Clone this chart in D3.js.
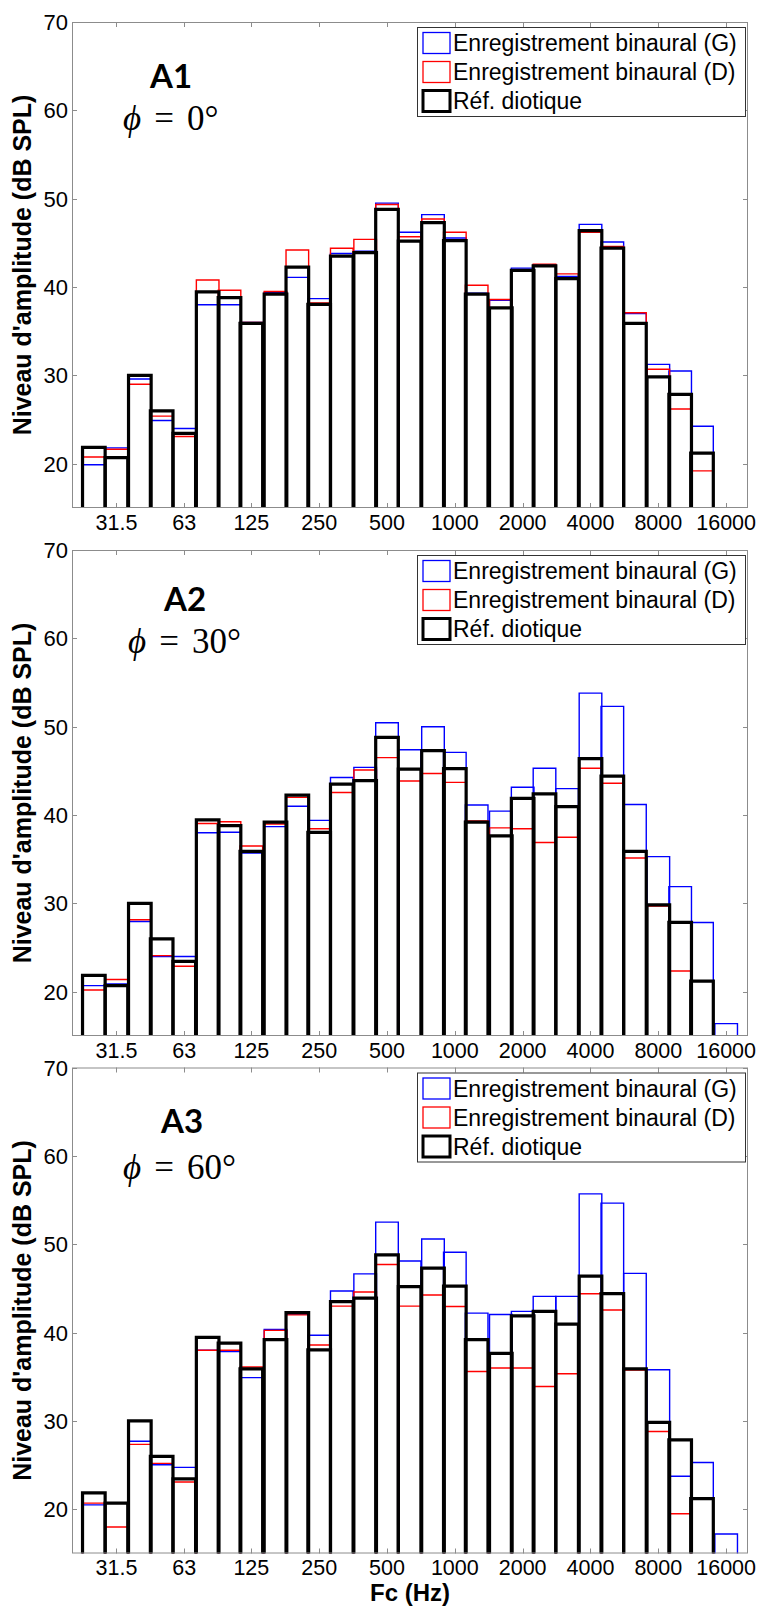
<!DOCTYPE html>
<html>
<head>
<meta charset="utf-8">
<script src="https://cdnjs.cloudflare.com/ajax/libs/d3/7.8.5/d3.min.js"></script>
<style>
  body{margin:0;background:#fff}
  svg{display:block}
  text{font-family:"Liberation Sans",Arial,sans-serif;fill:#000}
</style>
</head>
<body>
<div id="chart"></div>
<script>
  // shared config
  var width  = 760,
      height = 1606,
      left   = 72,
      right  = 748,
      plotH  = 486;

  // third-octave bands (Hz)
  var bands = [25, 31.5, 40, 50, 63, 80, 100, 125, 160, 200, 250, 315, 400, 500,
               630, 800, 1000, 1250, 1600, 2000, 2500, 3150, 4000, 5000, 6300,
               8000, 10000, 12500, 16000];

  var xTicks      = [31.5, 63, 125, 250, 500, 1000, 2000, 4000, 8000, 16000],
      xTickLabels = ['31.5', '63', '125', '250', '500', '1000', '2000', '4000', '8000', '16000'],
      yTicks      = [20, 30, 40, 50, 60, 70];

  var legendLabels = ['Enregistrement binaural (G)', 'Enregistrement binaural (D)', 'Réf. diotique'];

  // dB SPL per band, null = below the axis
  var refDiotique = [21.85, 20.7, 30.0, 26.0, 23.45, 39.45, 38.8, 35.9, 39.2, 42.25, 38.05, 43.5, 43.9, 48.8,
                     45.2, 47.3, 45.25, 39.2, 37.65, 41.9, 42.4, 40.95, 46.4, 44.4, 35.9, 29.85, 27.85, 21.2, null];

  var a1Left  = [19.9, 21.8, 29.6, 24.9, 24.0, 38.0, 38.0, 36.0, 39.4, 41.1, 38.7, 43.8, 44.05, 49.5,
                 46.2, 48.2, 45.55, 39.3, 38.5, 42.15, 42.5, 41.2, 47.1, 45.1, 37.0, 31.25, 30.5, 24.25, null];
  var a1Right = [20.77, 21.65, 29.0, 25.4, 23.1, 40.8, 39.65, 36.0, 39.5, 44.2, 38.2, 44.4, 45.4, 49.35,
                 45.7, 47.7, 46.2, 40.2, 38.6, 41.95, 42.6, 41.5, 46.2, 44.6, 37.1, 30.7, 26.2, 19.2, null];

  var a2Left  = [20.7, 20.9, 27.95, 24.0, 24.0, 38.0, 38.05, 35.7, 38.7, 41.0, 39.4, 44.25, 45.4, 50.45,
                 47.4, 50.0, 47.1, 41.15, 40.45, 43.15, 45.3, 43.0, 53.8, 52.3, 41.2, 35.3, 31.9, 27.85, 16.4];
  var a2Right = [20.2, 21.4, 28.15, 24.1, 22.9, 39.05, 39.25, 36.5, 39.0, 42.0, 38.45, 42.55, 45.1, 46.5,
                 43.85, 44.7, 43.7, 39.35, 38.55, 38.45, 36.9, 37.5, 45.3, 43.6, 35.15, 29.7, 22.35, 21.2, null];

  var a3Left  = [20.5, 20.75, 27.7, 25.05, 24.75, 38.0, 37.85, 34.9, 40.35, 42.1, 39.7, 44.7, 46.65, 52.5,
                 48.1, 50.6, 49.1, 42.2, 42.05, 42.4, 44.1, 44.1, 55.7, 54.65, 46.7, 35.8, 23.75, 25.3, 17.2];
  var a3Right = [20.7, 18.0, 27.35, 25.2, 23.1, 38.0, 38.0, 36.1, 40.25, 42.0, 38.6, 43.0, 44.6, 47.7,
                 43.0, 44.25, 42.95, 35.6, 36.0, 36.0, 33.9, 35.35, 44.4, 42.55, 35.75, 28.8, 19.5, 21.15, null];

  // panels, top to bottom
  var panels = [
    {id: 'A1', phi: '0°',  g: a1Left, d: a1Right, top: 22,     tag: [171, 66], ang: [123, 108]},
    {id: 'A2', phi: '30°', g: a2Left, d: a2Right, top: 550,    tag: [185, 61], ang: [128, 103]},
    {id: 'A3', phi: '60°', g: a3Left, d: a3Right, top: 1067.5, tag: [182, 65], ang: [123, 111]}
  ];

  var styles = [
    {color: '#0000ff', w: 1.4},
    {color: '#ff0000', w: 1.4},
    {color: '#000',    w: 3.2}
  ];

  var svg = d3.select('#chart').append('svg')
    .attr('width', width)
    .attr('height', height);

  var x = d3.scaleLog().domain([20, 20000]).range([left, right]);

  var third = Math.pow(2, 1/6);

  panels.forEach(function(p, i){
    var y = d3.scaleLinear().domain([15, 70]).range([p.top + plotH, p.top]);
    var g = svg.append('g');

    g.append('clipPath').attr('id', 'clip' + i)
      .append('rect')
      .attr('x', left).attr('y', p.top)
      .attr('width', right - left).attr('height', plotH);

    // bars: open outlines, blue then red then black on top
    var bars = g.append('g').attr('clip-path', 'url(#clip' + i + ')');
    [p.g, p.d, refDiotique].forEach(function(series, s){
      bars.selectAll(null)
        .data(bands.map(function(f, k){ return {f: f, v: series[k]} })
          .filter(function(d){ return d.v !== null }))
        .enter().append('path')
        .attr('d', function(d){
          var x0 = x(d.f / third), x1 = x(d.f * third), yb = y(15) + 6;
          return 'M' + x0 + ',' + yb + 'V' + y(d.v) + 'H' + x1 + 'V' + yb;
        })
        .attr('fill', 'none')
        .attr('stroke', styles[s].color)
        .attr('stroke-width', styles[s].w)
        .attr('stroke-linejoin', 'miter');
    });

    // axes box + inward ticks on all sides
    var axisColor = '#8c8c8c';
    g.append('rect')
      .attr('x', left + 0.5).attr('y', p.top + 0.5)
      .attr('width', right - left - 1).attr('height', plotH - 1)
      .attr('fill', 'none').attr('stroke', axisColor).attr('stroke-width', 1);

    xTicks.forEach(function(t){
      var xx = Math.round(x(t)) + 0.5;
      g.append('line').attr('x1', xx).attr('x2', xx)
        .attr('y1', p.top + plotH).attr('y2', p.top + plotH - 5)
        .attr('stroke', axisColor);
      g.append('line').attr('x1', xx).attr('x2', xx)
        .attr('y1', p.top).attr('y2', p.top + 5)
        .attr('stroke', axisColor);
    });
    yTicks.forEach(function(t){
      var yy = Math.round(y(t)) + 0.5;
      g.append('line').attr('x1', left).attr('x2', left + 5)
        .attr('y1', yy).attr('y2', yy).attr('stroke', axisColor);
      g.append('line').attr('x1', right).attr('x2', right - 5)
        .attr('y1', yy).attr('y2', yy).attr('stroke', axisColor);
    });

    // tick labels
    g.selectAll('.xl').data(xTicks).enter().append('text')
      .attr('x', function(t){ return x(t) })
      .attr('y', p.top + plotH + 21.5)
      .attr('text-anchor', 'middle')
      .style('font-size', '21.5px')
      .text(function(t, k){ return xTickLabels[k] });

    g.selectAll('.yl').data(yTicks).enter().append('text')
      .attr('x', left - 4)
      .attr('y', function(t){ return y(t) + 8 })
      .attr('text-anchor', 'end')
      .style('font-size', '22px')
      .text(function(t){ return t });

    // y label
    g.append('text')
      .attr('transform', 'translate(31,' + (p.top + plotH/2) + ') rotate(-90)')
      .attr('text-anchor', 'middle')
      .style('font-size', '25px')
      .style('font-weight', 'bold')
      .text("Niveau d'amplitude (dB SPL)");

    // panel tag + angle
    g.append('text')
      .attr('x', p.tag[0]).attr('y', p.top + p.tag[1])
      .attr('text-anchor', 'middle')
      .style('font-family', 'Lato, "Open Sans", sans-serif')
      .style('font-weight', 'bold')
      .style('font-size', '33px')
      .text(p.id);

    var ang = g.append('text')
      .attr('x', p.ang[0]).attr('y', p.top + p.ang[1])
      .style('font-family', '"Liberation Serif", "DejaVu Serif", serif')
      .style('font-size', '35px');
    ang.append('tspan').style('font-style', 'italic').text('ϕ');
    ang.append('tspan').attr('dx', 13).text('=');
    ang.append('tspan').attr('dx', 13).text(p.phi);

    // legend
    var lg = g.append('g').attr('transform', 'translate(417,' + (p.top + 5) + ')');
    lg.append('rect')
      .attr('x', 0.5).attr('y', 0.5).attr('width', 328).attr('height', 89)
      .attr('fill', '#fff').attr('stroke', '#333').attr('stroke-width', 1);
    legendLabels.forEach(function(label, k){
      var cy = 16 + k * 29;
      lg.append('rect')
        .attr('x', 6).attr('y', cy - 10.5).attr('width', 27).attr('height', 21)
        .attr('fill', 'none')
        .attr('stroke', styles[k].color)
        .attr('stroke-width', k === 2 ? 3 : 1.3);
      lg.append('text')
        .attr('x', 36).attr('y', cy + 8)
        .style('font-size', '23px')
        .text(label);
    });
  });

  // x label under the last panel
  svg.append('text')
    .attr('x', (left + right) / 2)
    .attr('y', 1601)
    .attr('text-anchor', 'middle')
    .style('font-size', '24px')
    .style('font-weight', 'bold')
    .text('Fc (Hz)');
</script>
</body>
</html>
